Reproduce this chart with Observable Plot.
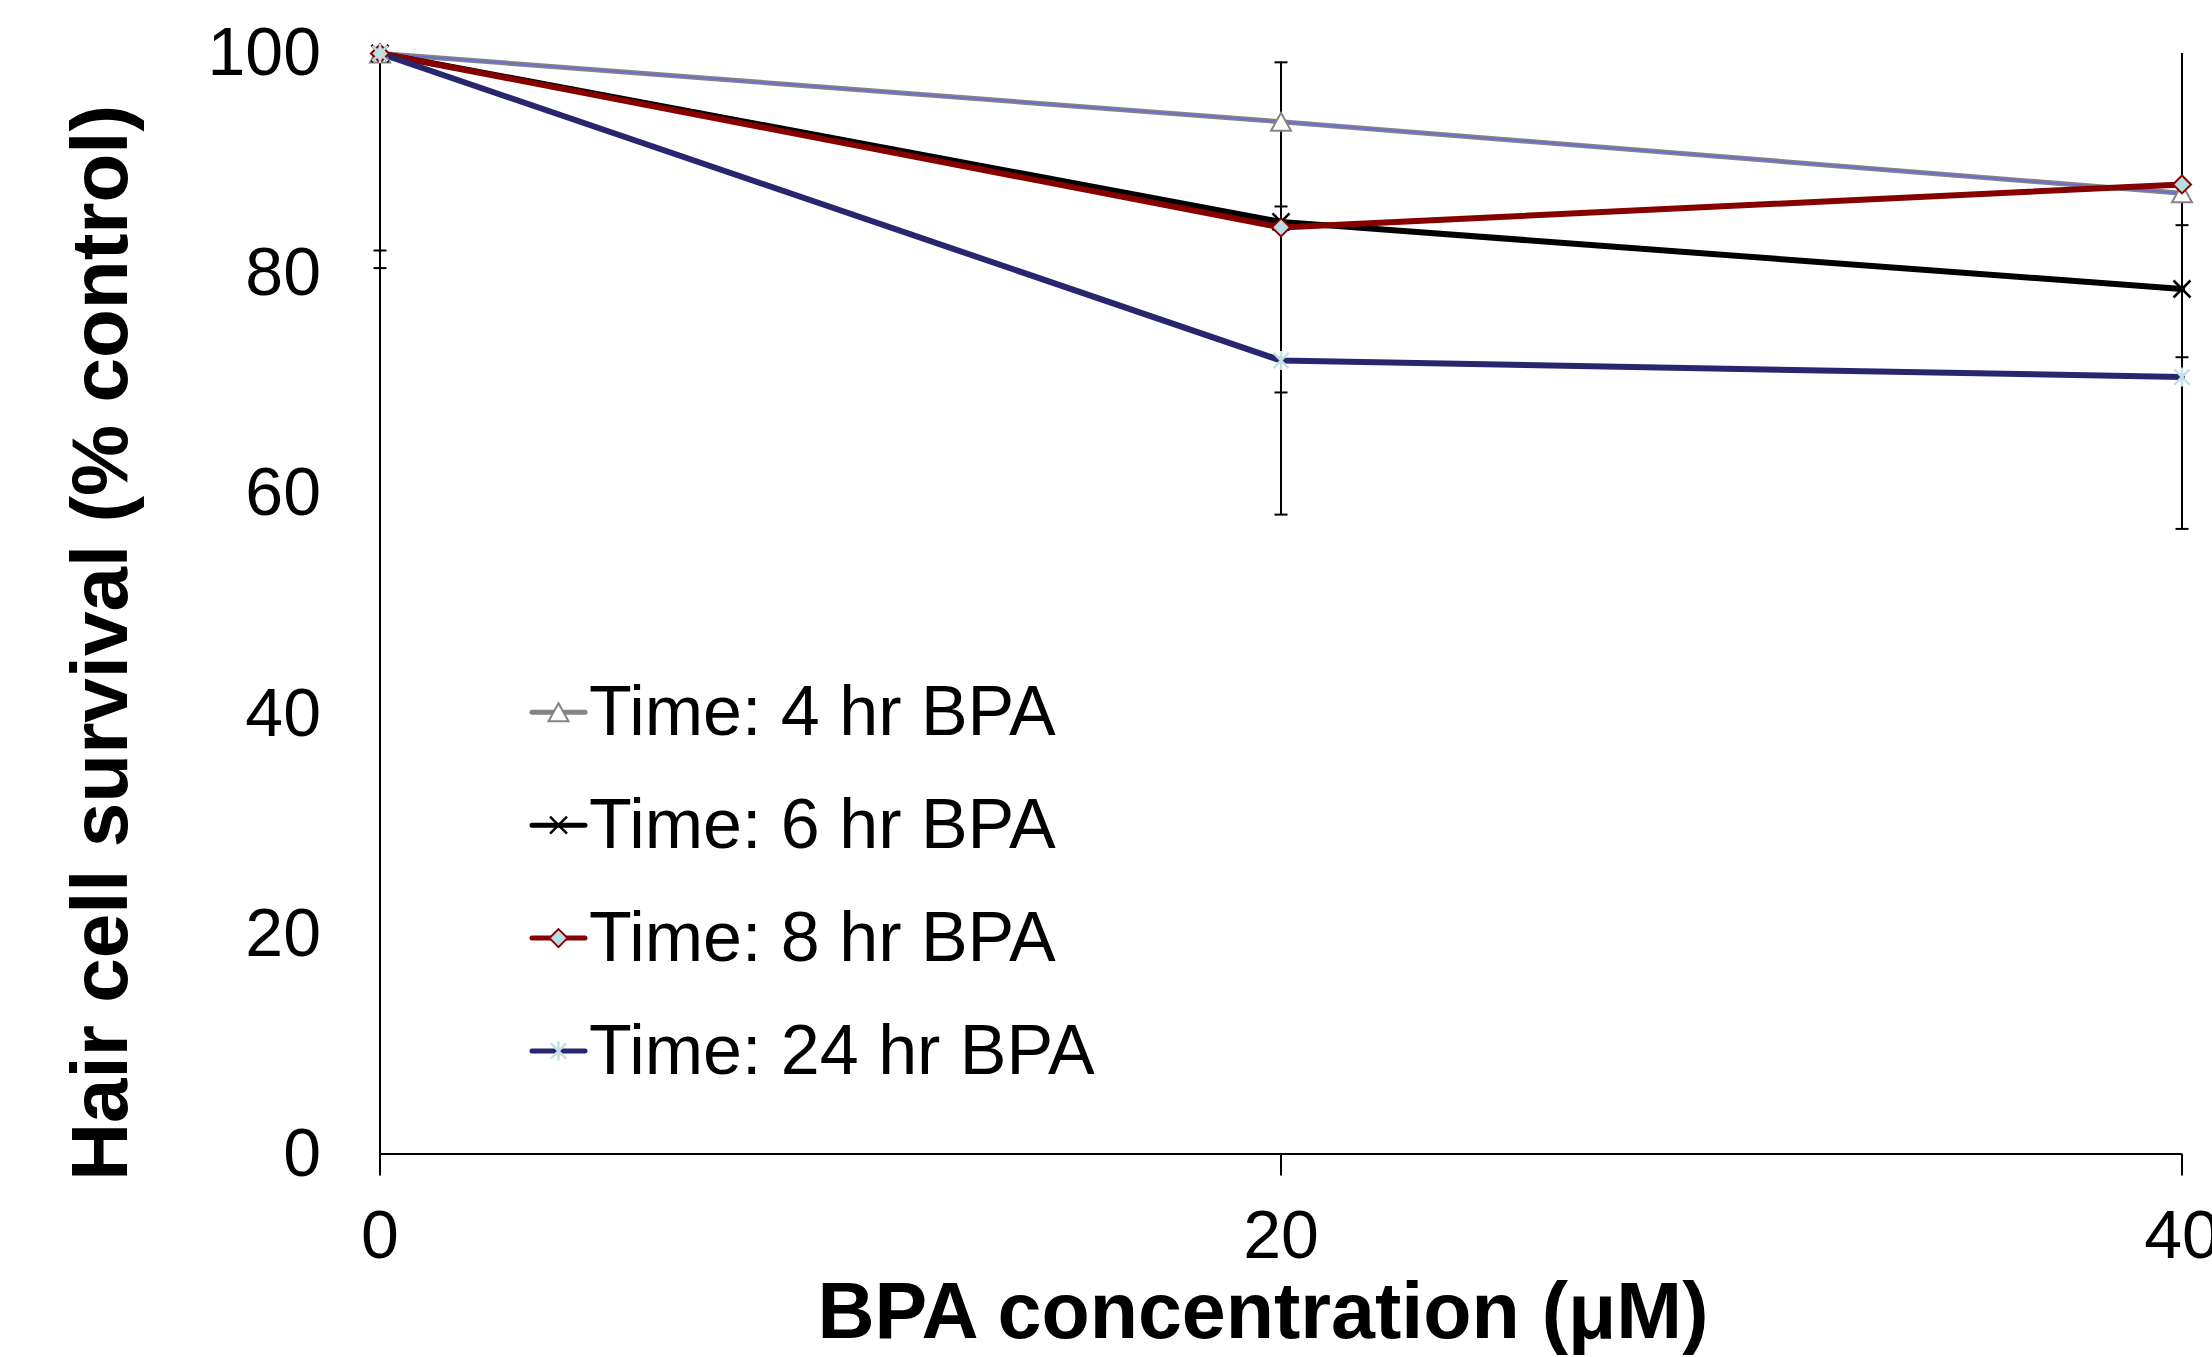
<!DOCTYPE html>
<html><head><meta charset="utf-8">
<script src="https://cdn.jsdelivr.net/npm/d3@7"></script>
<script src="https://cdn.jsdelivr.net/npm/@observablehq/plot@0.6"></script>
<style>html,body{margin:0;padding:0;background:#fff;overflow:hidden}</style>
</head><body><div id="chart"></div>
<script>
// ---- data ----
const concentrations = [0, 20, 40];
const seriesNames = ["Time: 4 hr BPA", "Time: 6 hr BPA", "Time: 8 hr BPA", "Time: 24 hr BPA"];
const survival4hr = [100, 93.8, 87.3];
const survival6hr = [100, 84.7, 78.6];
const survival8hr = [100, 84.2, 88.1];
const survival24hr = [100, 72.1, 70.6];
const error4hr = [0, 0, 0];
const error6hr = [0, 0, 0];
const error8hr = [17.9, 15.0, 15.7];
const error24hr = [19.5, 14.0, 13.8];
const yTicks = [0, 20, 40, 60, 80, 100];
const xTitle = "BPA concentration (μM)";
const yTitle = "Hair cell survival (% control)";

// ---- symbols ----
const mk = f => ({draw(ctx, size) { f(ctx, Math.sqrt(size / Math.PI)); }});
const triangleSym = mk((c, r) => { c.moveTo(0, -r * 0.9); c.lineTo(r, r * 0.9); c.lineTo(-r, r * 0.9); c.closePath(); });
const crossSym = mk((c, r) => { c.moveTo(-r, -r); c.lineTo(r, r); c.moveTo(r, -r); c.lineTo(-r, r); });
const diamondSym = mk((c, r) => { c.moveTo(0, -r); c.lineTo(r, 0); c.lineTo(0, r); c.lineTo(-r, 0); c.closePath(); });
const starSym = mk((c, r) => { const a = r * 0.8; c.moveTo(-a, -a); c.lineTo(a, a); c.moveTo(a, -a); c.lineTo(-a, a); c.moveTo(0, -r); c.lineTo(0, r); });
const capSym = mk((c, r) => { c.moveTo(-r, 0); c.lineTo(r, 0); });

const styles = [
  {line: "#848484", width: 5, overlay: "#6c6cd2", symbol: triangleSym, r: 10, fill: "white", stroke: "#848484", sw: 2},
  {line: "#000000", width: 6, symbol: crossSym, r: 8.5, fill: "none", stroke: "#000000", sw: 2.5},
  {line: "#860000", width: 6, symbol: diamondSym, r: 9, fill: "#b8dde2", stroke: "#8b0000", sw: 2},
  {line: "#27276f", width: 6, symbol: starSym, r: 9.5, fill: "none", stroke: "#c3e0e5", sw: 2.5}
];
const values = [survival4hr, survival6hr, survival8hr, survival24hr];
const errors = [error4hr, error6hr, error8hr, error24hr];
const yMax = 100, yMin = 0;
const rows = seriesNames.map((s, i) => concentrations.map((x, j) => ({series: s, x, y: values[i][j], err: errors[i][j]})));
const errRows = rows.flat().filter(d => d.err > 0);
const capRows = errRows.flatMap(d => [{x: d.x, y: d.y - d.err}, {x: d.x, y: d.y + d.err}])
  .filter(d => d.y >= yMin && d.y <= yMax);

const font = "'Liberation Sans', Arial, Helvetica, sans-serif";

const marks = [
  Plot.ruleY([0], {stroke: "black", strokeWidth: 2}),
  Plot.ruleX([0], {stroke: "black", strokeWidth: 2}),
  Plot.axisX({ticks: concentrations, tickSize: 22, tickPadding: 34, fontSize: 68, strokeWidth: 2, label: null}),
  Plot.axisY({ticks: yTicks, tickSize: 0, tickPadding: 59, fontSize: 68, label: null}),
  Plot.ruleX(errRows, {x: "x", y1: d => Math.max(yMin, d.y - d.err), y2: d => Math.min(yMax, d.y + d.err), stroke: "black", strokeWidth: 2}),
  Plot.dot(capRows, {x: "x", y: "y", symbol: capSym, r: 6.5, stroke: "black", strokeWidth: 2, fill: "none"})
];
rows.forEach((data, i) => {
  const st = styles[i];
  marks.push(Plot.line(data, {x: "x", y: "y", stroke: st.line, strokeWidth: st.width, strokeLinejoin: "round"}));
  if (st.overlay) marks.push(Plot.line(data, {x: "x", y: "y", stroke: st.overlay, strokeWidth: 1.8}));
});
rows.forEach((data, i) => {
  const st = styles[i];
  marks.push(Plot.dot(data, {x: "x", y: "y", symbol: st.symbol, r: st.r, fill: st.fill, stroke: st.stroke, strokeWidth: st.sw}));
});
marks.push(Plot.text([xTitle], {frameAnchor: "bottom", textAnchor: "middle", lineAnchor: "bottom", dx: -18, dy: 184, fontSize: 79, fontWeight: "bold", fill: "black"}));
marks.push(Plot.text([yTitle], {frameAnchor: "left", textAnchor: "middle", lineAnchor: "bottom", rotate: -90, dx: -253, dy: 39, fontSize: 80, fontWeight: "bold", fill: "black"}));

const chart = Plot.plot({
  width: 2212,
  height: 1357,
  marginLeft: 379.5,
  marginRight: 30.5,
  marginTop: 53,
  marginBottom: 203.5,
  x: {domain: [0, 40]},
  y: {domain: [yMin, yMax]},
  style: {fontFamily: font, background: "white", color: "black", overflow: "hidden"},
  marks
});
document.getElementById("chart").appendChild(chart);

// ---- legend ----
const svg = d3.select(chart);
const lg = svg.append("g").attr("font-family", font).attr("text-anchor", "start");
seriesNames.forEach((name, i) => {
  const st = styles[i];
  const cy = 712.3 + i * 112.9;
  const g = lg.append("g");
  g.append("line").attr("x1", 532).attr("x2", 585).attr("y1", cy).attr("y2", cy)
    .attr("stroke", st.line).attr("stroke-width", 5).attr("stroke-linecap", "round");
  g.append("path").attr("transform", `translate(558.5,${cy})`)
    .attr("d", d3.symbol(st.symbol, st.r * st.r * Math.PI)())
    .attr("fill", st.fill).attr("stroke", st.stroke).attr("stroke-width", st.sw);
  g.append("text").attr("x", 589).attr("y", cy + 23).attr("font-size", 70)
    .attr("text-anchor", "start").attr("fill", "black").text(name);
});
</script></body></html>
